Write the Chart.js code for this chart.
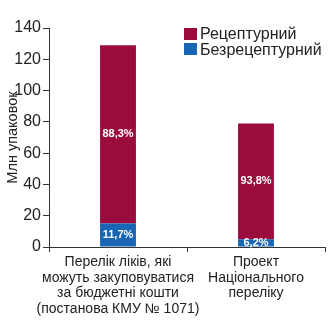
<!DOCTYPE html>
<html>
<head>
<meta charset="utf-8">
<script src="https://cdn.jsdelivr.net/npm/chart.js@4"></script>
<style>
  html, body { margin: 0; padding: 0; background: #fff; }
  #wrap { position: relative; width: 330px; height: 330px; }
  #legend { position: absolute; left: 184px; top: 26px; font-family: "Liberation Sans", Arial, sans-serif; font-size: 16px; color: #222; line-height: 15.5px; }
  #legend div { display: flex; align-items: center; white-space: nowrap; }
  #legend span.box { display: inline-block; width: 13px; height: 12px; margin-right: 3px; }
</style>
</head>
<body>
<div id="wrap">
  <canvas id="chart" width="330" height="330"></canvas>
  <div id="legend"></div>
</div>
<script>
const categories = [
  ['Перелік ліків, які', 'можуть закуповуватися', 'за бюджетні кошти', '(постанова КМУ № 1071)'],
  ['Проект', 'Національного', 'переліку']
];
const seriesNames = ['Рецептурний', 'Безрецептурний'];
const rxValues = [113.9, 74.1];
const otcValues = [15.1, 4.9];
const rxShares = ['88,3%', '93,8%'];
const otcShares = ['11,7%', '6,2%'];
const yTicks = [0, 20, 40, 60, 80, 100, 120, 140];

const RED = '#9a0b3e';
const BLUE = '#1866b4';
const TEXT = '#222';
const FONT = '"Liberation Sans", Arial, sans-serif';

// simple in-bar percentage labels
const shareLabels = {
  id: 'shareLabels',
  afterDatasetsDraw(chart) {
    const ctx = chart.ctx;
    ctx.save();
    ctx.fillStyle = '#fff';
    ctx.font = 'bold 11px ' + FONT;
    ctx.textAlign = 'center';
    ctx.textBaseline = 'middle';
    chart.data.datasets.forEach((ds, di) => {
      const meta = chart.getDatasetMeta(di);
      meta.data.forEach((bar, i) => {
        const mid = (bar.y + bar.base) / 2;
        ctx.fillText(ds.shares[i], bar.x, mid);
      });
    });
    ctx.restore();
  }
};

const ctx = document.getElementById('chart').getContext('2d');
new Chart(ctx, {
  type: 'bar',
  data: {
    labels: categories,
    datasets: [
      { label: seriesNames[1], data: otcValues, shares: otcShares, backgroundColor: BLUE },
      { label: seriesNames[0], data: rxValues, shares: rxShares, backgroundColor: RED }
    ]
  },
  options: {
    responsive: false,
    animation: false,
    layout: { padding: { top: 28, right: 5, bottom: 0, left: 0 } },
    datasets: { bar: { barPercentage: 0.26, categoryPercentage: 1 } },
    plugins: {
      legend: { display: false },
      tooltip: { enabled: false }
    },
    scales: {
      x: {
        stacked: true,
        afterFit(scale) { scale.height = 83; },
        grid: { drawOnChartArea: false, drawTicks: true, tickLength: 5, color: '#333', offset: true },
        border: { color: '#333', width: 1 },
        ticks: { color: TEXT, font: { family: FONT, size: 14, lineHeight: 1.13 }, padding: 2, maxRotation: 0, autoSkip: false }
      },
      y: {
        stacked: true,
        min: 0,
        max: 140,
        afterFit(scale) { scale.width = 49; },
        afterBuildTicks(scale) { scale.ticks = yTicks.map(v => ({ value: v })); },
        grid: { drawOnChartArea: false, drawTicks: true, tickLength: 6, color: '#333' },
        border: { color: '#333', width: 1 },
        ticks: { color: TEXT, font: { family: FONT, size: 16 }, padding: 2 },
        title: { display: true, text: 'Млн упаковок', color: TEXT, font: { family: FONT, size: 14.5 }, padding: { top: 4, bottom: 0 } }
      }
    }
  },
  plugins: [shareLabels]
});

const legend = document.getElementById('legend');
[[seriesNames[0], RED], [seriesNames[1], BLUE]].forEach(([name, color]) => {
  const row = document.createElement('div');
  row.innerHTML = `<span class="box" style="background:${color}"></span>${name}`;
  legend.appendChild(row);
});
</script>
</body>
</html>
